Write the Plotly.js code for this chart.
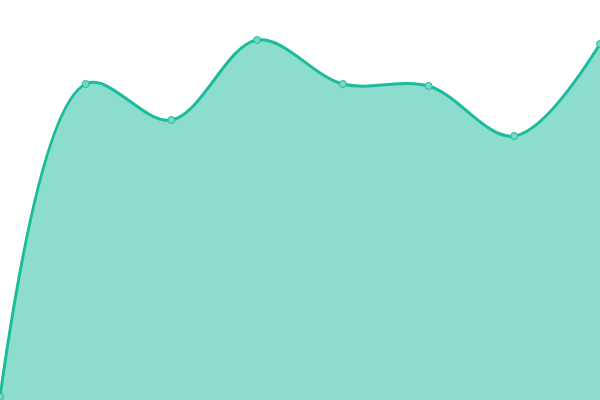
<!DOCTYPE html>
<html>
<head>
<meta charset="utf-8">
<script src="https://cdn.plot.ly/plotly-3.0.1.min.js"></script>
<style>
  html, body { margin: 0; padding: 0; background: #fff; }
  #chart { width: 600px; height: 400px; }
</style>
</head>
<body>
<div id="chart"></div>
<script>
  var xs = [0, 1, 2, 3, 4, 5, 6, 7];
  var values = [0.8, 79, 70, 90, 79, 78.5, 66, 89];

  var data = [{
    x: xs,
    y: values,
    mode: 'lines+markers',
    fill: 'tozeroy',
    fillcolor: 'rgba(26, 188, 156, 0.5)',
    line: { color: '#1abc9c', width: 3, shape: 'spline', smoothing: 1 },
    marker: {
      size: 7,
      color: 'rgba(122, 215, 196, 1)',
      line: { color: '#1abc9c', width: 1 }
    },
    hoverinfo: 'none'
  }];

  var layout = {
    width: 600,
    height: 400,
    showlegend: false,
    paper_bgcolor: '#fff',
    plot_bgcolor: '#fff',
    margin: { l: 0, r: 0, t: 0, b: 0, pad: 0 },
    xaxis: { range: [0, 7], visible: false, fixedrange: true },
    yaxis: { range: [0, 100], visible: false, fixedrange: true }
  };

  Plotly.newPlot('chart', data, layout, { displayModeBar: false, staticPlot: true });
</script>
</body>
</html>
